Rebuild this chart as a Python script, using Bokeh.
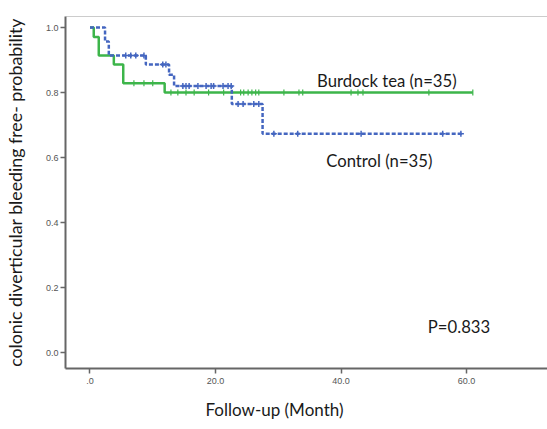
import numpy as np
from bokeh.plotting import figure
from bokeh.models import Range1d, Label, Span, FixedTicker, Title
from bokeh.embed import file_html
from bokeh.resources import INLINE

# Kaplan-Meier step data
tea_time = [0, 0.6, 1.4, 3.8, 5.3, 11.9, 61.0]
tea_surv = [1.0, 0.971, 0.914, 0.886, 0.829, 0.800, 0.800]
tea_cens = [7.0, 8.6, 10.0, 12.9, 14.0, 15.3, 16.6, 18.9, 21.3, 24.0, 24.5, 25.2,
            25.8, 26.4, 26.9, 30.9, 33.3, 33.9, 41.6, 42.7, 43.5, 54.0, 61.0]

ctl_time = [0, 2.4, 3.0, 8.9, 12.6, 13.4, 22.6, 27.5, 59.4]
ctl_surv = [1.0, 0.957, 0.914, 0.886, 0.855, 0.820, 0.765, 0.673, 0.673]
ctl_cens = [5.7, 6.5, 7.3, 8.6, 11.6, 12.1, 14.8, 15.3, 15.8, 17.2, 18.5, 19.3,
            19.7, 21.2, 22.0, 22.5, 23.6, 24.4, 26.1, 26.9, 29.3, 33.1, 43.2, 56.2, 59.1]

x_ticks = [0, 20, 40, 60]
x_tick_labels = [".0", "20.0", "40.0", "60.0"]
y_ticks = [0.0, 0.2, 0.4, 0.6, 0.8, 1.0]
y_tick_labels = ["0.0", "0.2", "0.4", "0.6", "0.8", "1.0"]

x_title = "Follow-up (Month)"
y_title = "colonic diverticular bleeding free- probability"

GREEN = "#3DB54A"
BLUE = "#4466C0"
FONT = "Lato"
TXT = "#1a1a1a"


def surv_at(times, surv, t):
    idx = np.searchsorted(np.array(times), np.array(t), side="right") - 1
    return list(np.array(surv)[idx])


p = figure(width=547, height=429, output_backend="svg", toolbar_location=None,
           x_range=Range1d(-3.9, 72.9), y_range=Range1d(-0.049, 1.034),
           min_border_left=64, min_border_right=0, min_border_top=16, min_border_bottom=10)
p.outline_line_color = None
p.background_fill_color = "white"
p.border_fill_color = "white"
p.xgrid.visible = False
p.ygrid.visible = False

p.add_layout(Span(location=1.034, dimension="width", line_color="#999999", line_width=1))

p.step(tea_time, tea_surv, mode="after", line_color=GREEN, line_width=2.5)
p.step(ctl_time, ctl_surv, mode="after", line_color=BLUE, line_width=2.5, line_dash="4 2")

p.scatter(tea_cens, surv_at(tea_time, tea_surv, tea_cens), marker="dash", angle=np.pi / 2,
          size=6, line_color=GREEN, line_width=1.2)
p.scatter(ctl_cens, surv_at(ctl_time, ctl_surv, ctl_cens), marker="cross",
          size=6, line_color=BLUE, line_width=1.5)

for txt, xx, yy in [("Burdock tea (n=35)", 47.3, 0.836), ("Control (n=35)", 46.1, 0.59),
                    ("P=0.833", 58.8, 0.08)]:
    p.add_layout(Label(x=xx, y=yy, text=txt, text_align="center", text_baseline="middle",
                       text_font=FONT, text_font_size="16.7px", text_color=TXT))

for ax in (p.xaxis[0], p.yaxis[0]):
    ax.axis_line_color = "#666666"
    ax.axis_line_width = 2
    ax.major_tick_line_color = "#666666"
    ax.major_tick_line_width = 1.5
    ax.minor_tick_line_color = None
    ax.major_tick_in = 0
    ax.major_tick_out = 5
    ax.major_label_text_font = "Liberation Sans"
    ax.major_label_text_font_size = "9px"
    ax.major_label_text_color = "#555555"

p.xaxis.ticker = FixedTicker(ticks=x_ticks)
p.xaxis.major_label_overrides = {t: l for t, l in zip(x_ticks, x_tick_labels)}
p.yaxis.ticker = FixedTicker(ticks=y_ticks)
p.yaxis.major_label_overrides = {t: l for t, l in zip(y_ticks, y_tick_labels)}
p.xaxis.major_label_standoff = 4
p.yaxis.major_label_standoff = 2

# y title as the axis label
p.yaxis.axis_label = y_title
p.yaxis.axis_label_text_font = FONT
p.yaxis.axis_label_text_font_size = "17.8px"
p.yaxis.axis_label_text_font_style = "normal"
p.yaxis.axis_label_text_color = TXT
p.yaxis.axis_label_standoff = 17

# x title: below the axis, shifted left of the frame centre as in the reference
p.add_layout(Title(text=x_title, align="left", offset=140, standoff=20,
                   text_font=FONT, text_font_size="17px", text_font_style="normal",
                   text_color=TXT), "below")

open("out.html", "w").write(file_html(p, INLINE))
